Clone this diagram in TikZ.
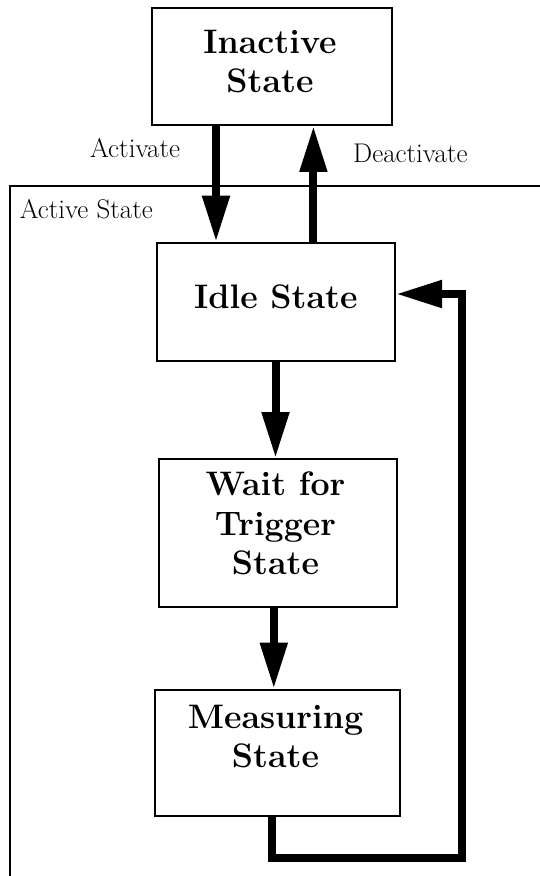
\documentclass[tikz,border=0pt]{standalone}
\usetikzlibrary{arrows.meta,calc}
\begin{document}
\begin{tikzpicture}[x=1pt,y=-1pt,
  box/.style={draw,line width=2pt,inner sep=0pt,rectangle},
  title/.style={font=\fontsize{34}{40}\selectfont\bfseries,anchor=base,inner sep=0pt},
  lbl/.style={font=\fontsize{27}{32}\selectfont,anchor=base west,inner sep=0pt},
  arr/.style={line width=8pt,-{Triangle[length=46pt,width=26pt]}},
  loopline/.style={line width=8pt,line join=miter,-{Triangle[length=46pt,width=26pt]}}]
\useasboundingbox (0,0) rectangle (540,876);
\fill[white] (0,0) rectangle (540,876);
% outer active state frame
\draw[line width=2pt] (9.6,880) -- (9.6,186) -- (545,186);
% boxes
\node[box,minimum width=239.5pt,minimum height=116.5pt] (inactive) at (272.2,66.7) {};
\node[box,minimum width=238.3pt,minimum height=118.3pt] (idle) at (275.85,301.85) {};
\node[box,minimum width=238.3pt,minimum height=147.7pt] (wait) at (277.85,532.85) {};
\node[box,minimum width=245.2pt,minimum height=126.3pt] (meas) at (277.2,752.85) {};
% box texts
\node[title] (t1) at (270,53) {Inactive};
\node[title] (t2) at (270,92) {State};
\node[title] (t3) at (275.85,308) {Idle State};
\node[title] (t4) at (275.5,495) {Wait for};
\node[title] (t5) at (275.5,535) {Trigger};
\node[title] (t6) at (275.5,574) {State};
\node[title] (t7) at (275.5,728) {Measuring};
\node[title] (t8) at (275.5,767) {State};
% labels
\node[lbl] (la) at (90,157) {Activate};
\node[lbl] (ld) at (353,162) {Deactivate};
\node[lbl] (ls) at (19.6,218) {Active State};
% helper coordinates
\coordinate (xa) at (216,0);
\coordinate (xd) at (313.4,0);
\coordinate (xw) at (275.5,0);
\coordinate (xm) at (273.8,0);
\coordinate (xl) at (272.2,0);
\coordinate (cb) at (272.2,857.5);
\coordinate (cr) at (462,857.5);
\coordinate (ct) at (462,294);
\coordinate (yi) at (0,294);
% arrows
\draw[arr] (inactive.south -| xa) -- (idle.north -| xa);
\draw[arr] (idle.north -| xd) -- (inactive.south -| xd);
\draw[arr] (idle.south -| xw) -- (wait.north -| xw);
\draw[arr] (wait.south -| xm) -- (meas.north -| xm);
\draw[loopline] (meas.south -| xl) -- (cb) -- (cr) -- (ct) -- (idle.east |- yi);
\end{tikzpicture}
\end{document}
